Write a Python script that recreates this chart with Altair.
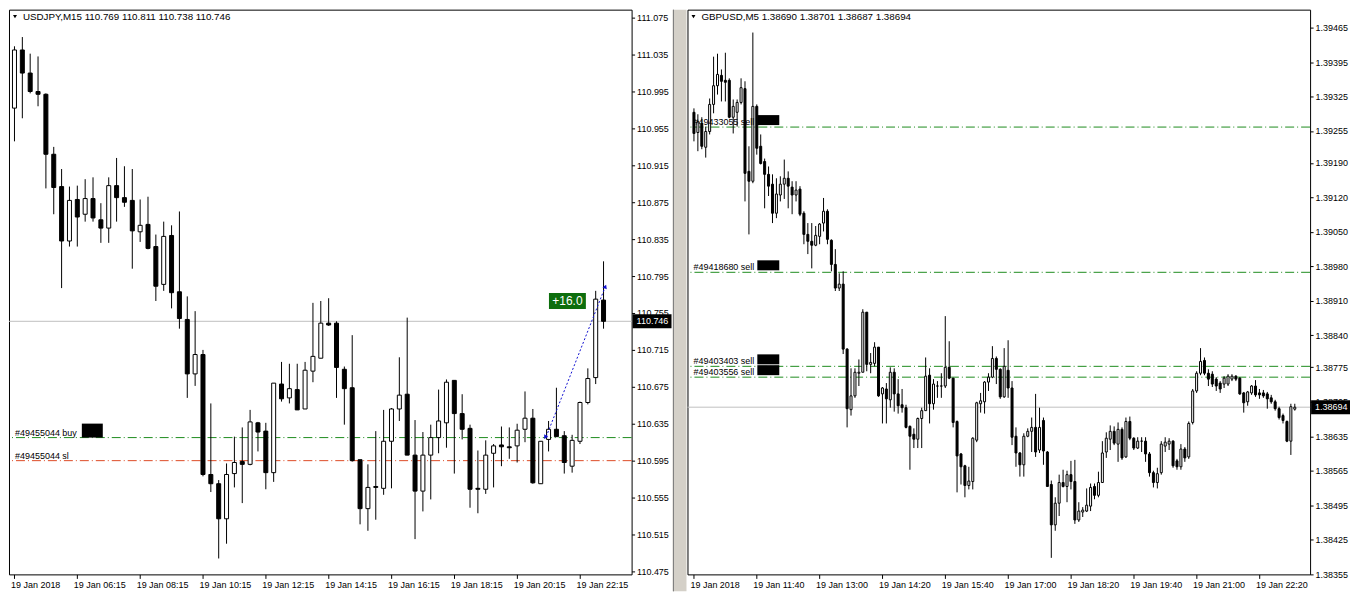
import altair as alt
import pandas as pd

FONT = "Tahoma, 'Liberation Sans', Arial, sans-serif"
FS = 9
TFS = 9.8

# ---------------- USDJPY, M15 ----------------
usd_title = "USDJPY,M15  110.769 110.811 110.738 110.746"
usd_open = [110.977, 111.040, 111.015, 110.995, 110.992, 110.927, 110.892, 110.833, 110.878, 110.862,
            110.879, 110.856, 110.847, 110.893, 110.880, 110.877, 110.843, 110.851, 110.827, 110.786,
            110.839, 110.778, 110.748, 110.689, 110.710, 110.580, 110.570, 110.532, 110.581, 110.594,
            110.591, 110.636, 110.627, 110.582, 110.678, 110.663, 110.672, 110.651, 110.692, 110.706,
            110.744, 110.744, 110.694, 110.674, 110.596, 110.543, 110.567, 110.565, 110.616, 110.651,
            110.667, 110.601, 110.562, 110.601, 110.620, 110.636, 110.682, 110.646, 110.630, 110.565,
            110.564, 110.603, 110.612, 110.610, 110.611, 110.629, 110.641, 110.570, 110.618, 110.629,
            110.622, 110.589, 110.616, 110.658, 110.685, 110.769]
usd_high = [111.044, 111.054, 111.036, 111.033, 110.993, 110.935, 110.911, 110.892, 110.893, 110.900,
            110.902, 110.874, 110.902, 110.923, 110.914, 110.911, 110.878, 110.881, 110.840, 110.854,
            110.850, 110.865, 110.773, 110.757, 110.715, 110.657, 110.574, 110.592, 110.621, 110.631,
            110.650, 110.637, 110.636, 110.679, 110.702, 110.700, 110.700, 110.702, 110.766, 110.768,
            110.771, 110.746, 110.697, 110.731, 110.596, 110.591, 110.627, 110.650, 110.652, 110.707,
            110.750, 110.639, 110.626, 110.634, 110.672, 110.683, 110.682, 110.667, 110.634, 110.606,
            110.617, 110.613, 110.632, 110.631, 110.635, 110.670, 110.651, 110.616, 110.638, 110.674,
            110.627, 110.623, 110.659, 110.695, 110.779, 110.811]
usd_low = [110.941, 110.966, 110.993, 110.979, 110.890, 110.862, 110.782, 110.827, 110.827, 110.854,
           110.854, 110.831, 110.831, 110.854, 110.870, 110.803, 110.832, 110.824, 110.768, 110.779,
           110.760, 110.738, 110.663, 110.676, 110.578, 110.561, 110.489, 110.505, 110.566, 110.549,
           110.590, 110.605, 110.564, 110.572, 110.659, 110.657, 110.650, 110.651, 110.680, 110.706,
           110.741, 110.663, 110.634, 110.594, 110.526, 110.519, 110.531, 110.558, 110.565, 110.638,
           110.601, 110.510, 110.540, 110.553, 110.603, 110.609, 110.581, 110.618, 110.544, 110.538,
           110.559, 110.566, 110.589, 110.597, 110.593, 110.615, 110.570, 110.570, 110.605, 110.621,
           110.581, 110.582, 110.613, 110.656, 110.678, 110.738]
usd_close = [111.040, 111.015, 110.995, 110.992, 110.927, 110.891, 110.833, 110.877, 110.859, 110.879,
             110.858, 110.847, 110.893, 110.880, 110.875, 110.844, 110.850, 110.825, 110.784, 110.838,
             110.777, 110.749, 110.689, 110.710, 110.580, 110.570, 110.532, 110.580, 110.593, 110.591,
             110.637, 110.626, 110.582, 110.679, 110.662, 110.673, 110.650, 110.693, 110.708, 110.744,
             110.742, 110.696, 110.673, 110.595, 110.543, 110.566, 110.566, 110.616, 110.651, 110.666,
             110.601, 110.562, 110.601, 110.620, 110.638, 110.680, 110.646, 110.629, 110.564, 110.564,
             110.601, 110.611, 110.610, 110.609, 110.628, 110.641, 110.571, 110.616, 110.629, 110.621,
             110.593, 110.617, 110.658, 110.684, 110.770, 110.746]
usd_x_ticks = [0, 8, 16, 24, 32, 40, 48, 56, 64, 72]
usd_x_labels = ["19 Jan 2018", "19 Jan 06:15", "19 Jan 08:15", "19 Jan 10:15", "19 Jan 12:15",
                "19 Jan 14:15", "19 Jan 16:15", "19 Jan 18:15", "19 Jan 20:15", "19 Jan 22:15"]
usd_y_ticks = [111.075, 111.035, 110.995, 110.955, 110.915, 110.875, 110.835, 110.795,
               110.755, 110.715, 110.675, 110.635, 110.595, 110.555, 110.515, 110.475]
usd_order_labels = ["#49455044 buy", "#49455044 sl"]
usd_order_prices = [110.620, 110.595]
usd_order_colors = ["#1e8c1e", "#dd4b26"]
usd_last = 110.746
usd_trade_bars = [67.7, 75.2]
usd_trade_prices = [110.621, 110.783]
usd_profit_text = "+16.0"
usd_profit_bar = 70.4
usd_profit_price = 110.768

# ---------------- GBPUSD, M5 ----------------
gbp_title = "GBPUSD,M5  1.38690 1.38701 1.38687 1.38694"
gbp_open = [1.39293, 1.39252, 1.39270, 1.39222, 1.39254, 1.39309, 1.39347, 1.39368, 1.39358, 1.39358,
            1.39283, 1.39293, 1.39313, 1.39341, 1.39173, 1.39153, 1.39305, 1.39224, 1.39193, 1.39167,
            1.39147, 1.39088, 1.39125, 1.39147, 1.39159, 1.39141, 1.39125, 1.39137, 1.39088, 1.39045,
            1.39031, 1.39023, 1.39041, 1.39068, 1.39092, 1.39033, 1.38984, 1.38936, 1.38944, 1.38812,
            1.38689, 1.38717, 1.38763, 1.38765, 1.38887, 1.38781, 1.38783, 1.38816, 1.38721, 1.38731,
            1.38709, 1.38765, 1.38721, 1.38699, 1.38693, 1.38655, 1.38639, 1.38629, 1.38671, 1.38687,
            1.38759, 1.38701, 1.38737, 1.38737, 1.38737, 1.38775, 1.38753, 1.38665, 1.38599, 1.38575,
            1.38535, 1.38543, 1.38627, 1.38701, 1.38705, 1.38745, 1.38755, 1.38793, 1.38771, 1.38715,
            1.38769, 1.38733, 1.38635, 1.38601, 1.38577, 1.38635, 1.38645, 1.38653, 1.38607, 1.38667,
            1.38603, 1.38537, 1.38455, 1.38499, 1.38541, 1.38533, 1.38557, 1.38543, 1.38465, 1.38481,
            1.38483, 1.38493, 1.38533, 1.38515, 1.38541, 1.38603, 1.38629, 1.38645, 1.38619, 1.38649,
            1.38593, 1.38665, 1.38631, 1.38611, 1.38625, 1.38625, 1.38599, 1.38561, 1.38541, 1.38561,
            1.38615, 1.38619, 1.38625, 1.38585, 1.38573, 1.38609, 1.38593, 1.38663, 1.38727, 1.38763,
            1.38789, 1.38763, 1.38761, 1.38751, 1.38743, 1.38741, 1.38741, 1.38751, 1.38757, 1.38753,
            1.38723, 1.38705, 1.38723, 1.38737, 1.38723, 1.38723, 1.38721, 1.38713, 1.38705, 1.38691,
            1.38677, 1.38665, 1.38625, 1.38690]
gbp_high = [1.39301, 1.39289, 1.39283, 1.39264, 1.39321, 1.39406, 1.39412, 1.39380, 1.39414, 1.39362,
            1.39319, 1.39319, 1.39362, 1.39356, 1.39224, 1.39455, 1.39309, 1.39248, 1.39199, 1.39183,
            1.39167, 1.39159, 1.39163, 1.39197, 1.39173, 1.39153, 1.39153, 1.39143, 1.39092, 1.39068,
            1.39068, 1.39062, 1.39068, 1.39119, 1.39096, 1.39035, 1.39015, 1.38966, 1.38970, 1.38814,
            1.38773, 1.38773, 1.38791, 1.38893, 1.38887, 1.38804, 1.38826, 1.38816, 1.38735, 1.38743,
            1.38775, 1.38773, 1.38751, 1.38731, 1.38699, 1.38657, 1.38651, 1.38673, 1.38693, 1.38795,
            1.38773, 1.38751, 1.38747, 1.38763, 1.38879, 1.38828, 1.38753, 1.38667, 1.38601, 1.38577,
            1.38573, 1.38633, 1.38705, 1.38723, 1.38747, 1.38763, 1.38818, 1.38797, 1.38773, 1.38814,
            1.38830, 1.38747, 1.38653, 1.38603, 1.38641, 1.38651, 1.38673, 1.38721, 1.38693, 1.38673,
            1.38605, 1.38545, 1.38511, 1.38557, 1.38567, 1.38565, 1.38585, 1.38587, 1.38501, 1.38491,
            1.38529, 1.38539, 1.38539, 1.38563, 1.38625, 1.38643, 1.38657, 1.38655, 1.38663, 1.38653,
            1.38673, 1.38675, 1.38633, 1.38633, 1.38633, 1.38633, 1.38603, 1.38565, 1.38571, 1.38625,
            1.38633, 1.38631, 1.38627, 1.38589, 1.38619, 1.38613, 1.38665, 1.38731, 1.38767, 1.38814,
            1.38795, 1.38771, 1.38767, 1.38755, 1.38747, 1.38757, 1.38761, 1.38761, 1.38759, 1.38755,
            1.38725, 1.38727, 1.38739, 1.38749, 1.38731, 1.38729, 1.38725, 1.38719, 1.38709, 1.38695,
            1.38681, 1.38667, 1.38701, 1.38701]
gbp_low = [1.39234, 1.39214, 1.39218, 1.39201, 1.39248, 1.39291, 1.39329, 1.39315, 1.39315, 1.39281,
           1.39250, 1.39264, 1.39309, 1.39112, 1.39045, 1.39149, 1.39207, 1.39187, 1.39098, 1.39123,
           1.39068, 1.39078, 1.39112, 1.39117, 1.39098, 1.39086, 1.39112, 1.39082, 1.39025, 1.39005,
           1.38976, 1.39021, 1.39025, 1.39051, 1.39025, 1.38970, 1.38930, 1.38930, 1.38802, 1.38653,
           1.38677, 1.38713, 1.38737, 1.38765, 1.38767, 1.38763, 1.38777, 1.38715, 1.38661, 1.38661,
           1.38693, 1.38685, 1.38681, 1.38683, 1.38651, 1.38567, 1.38611, 1.38611, 1.38611, 1.38687,
           1.38661, 1.38689, 1.38713, 1.38713, 1.38733, 1.38751, 1.38653, 1.38521, 1.38537, 1.38511,
           1.38527, 1.38527, 1.38623, 1.38683, 1.38681, 1.38727, 1.38753, 1.38741, 1.38711, 1.38713,
           1.38713, 1.38617, 1.38573, 1.38553, 1.38553, 1.38633, 1.38603, 1.38593, 1.38601, 1.38577,
           1.38533, 1.38388, 1.38443, 1.38473, 1.38531, 1.38501, 1.38527, 1.38457, 1.38461, 1.38471,
           1.38481, 1.38483, 1.38507, 1.38511, 1.38541, 1.38591, 1.38607, 1.38617, 1.38583, 1.38587,
           1.38591, 1.38627, 1.38607, 1.38609, 1.38603, 1.38583, 1.38553, 1.38531, 1.38529, 1.38557,
           1.38603, 1.38607, 1.38571, 1.38567, 1.38567, 1.38583, 1.38589, 1.38659, 1.38723, 1.38759,
           1.38759, 1.38737, 1.38735, 1.38727, 1.38723, 1.38733, 1.38737, 1.38747, 1.38747, 1.38719,
           1.38683, 1.38697, 1.38719, 1.38715, 1.38711, 1.38713, 1.38691, 1.38701, 1.38687, 1.38669,
           1.38661, 1.38623, 1.38597, 1.38687]
gbp_close = [1.39250, 1.39274, 1.39224, 1.39254, 1.39309, 1.39347, 1.39370, 1.39356, 1.39354, 1.39283,
             1.39305, 1.39313, 1.39343, 1.39169, 1.39153, 1.39305, 1.39220, 1.39189, 1.39167, 1.39143,
             1.39088, 1.39127, 1.39147, 1.39159, 1.39143, 1.39125, 1.39135, 1.39086, 1.39045, 1.39031,
             1.39023, 1.39043, 1.39066, 1.39092, 1.39035, 1.38984, 1.38936, 1.38944, 1.38812, 1.38691,
             1.38717, 1.38765, 1.38765, 1.38887, 1.38781, 1.38785, 1.38816, 1.38717, 1.38733, 1.38711,
             1.38765, 1.38721, 1.38697, 1.38693, 1.38653, 1.38635, 1.38629, 1.38671, 1.38687, 1.38757,
             1.38701, 1.38741, 1.38737, 1.38737, 1.38775, 1.38753, 1.38663, 1.38595, 1.38573, 1.38535,
             1.38544, 1.38631, 1.38703, 1.38707, 1.38745, 1.38755, 1.38793, 1.38771, 1.38715, 1.38777,
             1.38733, 1.38633, 1.38601, 1.38577, 1.38635, 1.38645, 1.38653, 1.38603, 1.38653, 1.38605,
             1.38533, 1.38455, 1.38499, 1.38541, 1.38533, 1.38557, 1.38543, 1.38465, 1.38483, 1.38485,
             1.38495, 1.38531, 1.38515, 1.38541, 1.38601, 1.38631, 1.38645, 1.38621, 1.38649, 1.38591,
             1.38665, 1.38631, 1.38611, 1.38625, 1.38625, 1.38599, 1.38561, 1.38541, 1.38559, 1.38619,
             1.38623, 1.38625, 1.38575, 1.38573, 1.38609, 1.38591, 1.38661, 1.38727, 1.38763, 1.38787,
             1.38763, 1.38751, 1.38741, 1.38737, 1.38731, 1.38753, 1.38757, 1.38757, 1.38751, 1.38721,
             1.38703, 1.38725, 1.38737, 1.38719, 1.38719, 1.38717, 1.38711, 1.38705, 1.38691, 1.38673,
             1.38667, 1.38625, 1.38695, 1.38694]
gbp_x_ticks = [0, 16, 32, 48, 64, 80, 96, 112, 128, 144]
gbp_x_labels = ["19 Jan 2018", "19 Jan 11:40", "19 Jan 13:00", "19 Jan 14:20", "19 Jan 15:40",
                "19 Jan 17:00", "19 Jan 18:20", "19 Jan 19:40", "19 Jan 21:00", "19 Jan 22:20"]
gbp_y_ticks = [1.39465, 1.39395, 1.39325, 1.39255, 1.39190, 1.39120, 1.39050, 1.38980, 1.38910,
               1.38840, 1.38775, 1.38705, 1.38635, 1.38565, 1.38495, 1.38425, 1.38355]
gbp_order_labels = ["#49433055 sell", "#49418680 sell", "#49403403 sell", "#49403556 sell"]
gbp_order_prices = [1.39263, 1.38968, 1.38777, 1.38755]
gbp_last = 1.38694

W, H = 624, 566
GREEN = "#1e8c1e"
DASH = [9, 3, 1, 3]


def frame(o, h, l, c):
    df = pd.DataFrame({"bar": list(range(len(o))), "open": o, "high": h, "low": l, "close": c})
    df["body_lo"] = df[["open", "close"]].min(axis=1)
    df["body_hi"] = df[["open", "close"]].max(axis=1)
    df["bull"] = (df["close"] >= df["open"]).map({True: "up", False: "down"})
    return df


def label_expr(labels, step):
    arr = "[" + ",".join("'%s'" % s for s in labels) + "]"
    return "%s[round(datum.value/%d)]" % (arr, step)


def panel(df, xdom, ydom, x_ticks, x_labels, step, y_ticks, yfmt, body_size,
          title, last_price, last_fmt, orders, box_x, box_offsets, extra=None):
    xs = alt.Scale(domain=xdom, nice=False, zero=False)
    ys = alt.Scale(domain=ydom, nice=False, zero=False)
    xaxis = alt.Axis(values=x_ticks, labelExpr=label_expr(x_labels, step), title=None, grid=False,
                     domain=False, tickSize=4, tickColor="black", labelAlign="left", labelPadding=2,
                     labelOffset=-4, labelFont=FONT, labelFontSize=FS, labelColor="black",
                     labelFlush=False, labelOverlap=False)
    yaxis = alt.Axis(orient="right", values=y_ticks, format=yfmt, title=None, grid=False,
                     domain=False, tickSize=3, tickColor="black", labelPadding=2, labelFont=FONT,
                     labelFontSize=FS, labelColor="black", labelOverlap=False, labelFlush=False)
    X = lambda f: alt.X(f, scale=xs, axis=xaxis)
    Y = lambda f: alt.Y(f, scale=ys, axis=yaxis)

    base = alt.Chart(df)
    wick = base.mark_rule(color="black", strokeWidth=1).encode(x=X("bar:Q"), y=Y("low:Q"), y2="high:Q")
    body = base.mark_bar(size=body_size, stroke="black", strokeWidth=1).encode(
        x=X("bar:Q"), y=Y("body_lo:Q"), y2="body_hi:Q",
        fill=alt.Fill("bull:N", scale=alt.Scale(domain=["up", "down"], range=["white", "black"]), legend=None))

    odf = pd.DataFrame(orders)
    olines = []
    for _, row in odf.iterrows():
        one = pd.DataFrame({"price": [row["price"]]})
        olines.append(alt.Chart(one).mark_rule(strokeWidth=1, strokeDash=DASH, color=row["color"],
                                               opacity=1).encode(y=Y("price:Q")))
    otext = alt.Chart(odf).mark_text(align="left", baseline="alphabetic", dy=-2, font=FONT,
                                     fontSize=FS, color="black").encode(
        x=alt.value(6), y=Y("price:Q"), text="label:N")
    bdf = odf[odf["box"]]
    oboxes = alt.Chart(bdf).mark_rect(color="black", yOffset=box_offsets[0], y2Offset=box_offsets[1]).encode(
        x=alt.value(box_x[0]), x2=alt.value(box_x[1]), y=Y("price:Q"), y2="price:Q")

    ldf = pd.DataFrame({"price": [last_price], "txt": [format(last_price, last_fmt)]})
    lline = alt.Chart(ldf).mark_rule(color="#c0c0c0", strokeWidth=1).encode(y=Y("price:Q"))
    lbox = alt.Chart(ldf).mark_rect(color="black", yOffset=-7, y2Offset=7).encode(
        x=alt.value(625), x2=alt.value(664), y=Y("price:Q"), y2="price:Q")
    ltxt = alt.Chart(ldf).mark_text(align="left", baseline="middle", font=FONT, fontSize=FS,
                                    color="white").encode(x=alt.value(629), y=Y("price:Q"), text="txt:N")

    tdf = pd.DataFrame({"t": [title]})
    tri = alt.Chart(tdf).mark_point(shape="triangle-down", filled=True, size=16, color="black",
                                    opacity=1).encode(x=alt.value(6), y=alt.value(7))
    ttxt = alt.Chart(tdf).mark_text(align="left", baseline="middle", font=FONT, fontSize=TFS,
                                    color="black").encode(x=alt.value(14), y=alt.value(7), text="t:N")

    layers = olines + [lline, wick, body, otext, oboxes, lbox, ltxt, tri, ttxt]
    if extra is not None:
        layers += extra(X, Y)
    return alt.layer(*layers).properties(width=W, height=H)


def usd_extra(X, Y):
    tr = pd.DataFrame({"bar": usd_trade_bars, "price": usd_trade_prices})
    line = alt.Chart(tr).mark_line(color="#1010d0", strokeWidth=1, strokeDash=[2, 2]).encode(
        x=X("bar:Q"), y=Y("price:Q"))
    start = alt.Chart(tr.iloc[[0]]).mark_point(shape="triangle-right", filled=True, size=22,
                                               color="#1010d0", opacity=1).encode(x=X("bar:Q"), y=Y("price:Q"))
    end = alt.Chart(tr.iloc[[1]]).mark_point(shape="triangle", filled=True, size=22, angle=22,
                                             color="#1010d0", opacity=1).encode(x=X("bar:Q"), y=Y("price:Q"))
    pdf = pd.DataFrame({"bar": [usd_profit_bar], "price": [usd_profit_price], "t": [usd_profit_text]})
    pbox = alt.Chart(pdf).mark_rect(color="#0d6e0d", xOffset=-18.5, x2Offset=18.5, yOffset=-8,
                                    y2Offset=8).encode(x=X("bar:Q"), x2="bar:Q", y=Y("price:Q"), y2="price:Q")
    ptxt = alt.Chart(pdf).mark_text(align="center", baseline="middle", font=FONT, fontSize=12,
                                    color="white").encode(x=X("bar:Q"), y=Y("price:Q"), text="t:N")
    # grey window frame between the two chart windows
    sep = alt.Chart(pd.DataFrame({"k": [0]})).mark_rect(color="#d4d0c8").encode(
        x=alt.value(665), x2=alt.value(679), y=alt.value(0), y2=alt.value(583))
    sep_line = alt.Chart(pd.DataFrame({"k": [0]})).mark_rule(color="#808080").encode(
        x=alt.value(666), y=alt.value(0), y2=alt.value(583))
    return [line, start, end, pbox, ptxt, sep, sep_line]


usd_orders = {"label": usd_order_labels, "price": usd_order_prices, "color": usd_order_colors,
              "box": [True, False]}
gbp_orders = {"label": gbp_order_labels, "price": gbp_order_prices, "color": [GREEN] * 4,
              "box": [True, True, True, True]}

left = panel(frame(usd_open, usd_high, usd_low, usd_close), [-0.0625, 77.9375],
             [110.47176, 111.0837], usd_x_ticks, usd_x_labels, 8, usd_y_ticks, ".3f", 4,
             usd_title, usd_last, ".3f", usd_orders, (73, 94), (-14, 0), extra=usd_extra)
right = panel(frame(gbp_open, gbp_high, gbp_low, gbp_close), [-0.375, 155.625],
              [1.383544, 1.395015], gbp_x_ticks, gbp_x_labels, 16, gbp_y_ticks, ".5f", 2,
              gbp_title, gbp_last, ".5f", gbp_orders, (70, 92), (-12, -2))

chart = alt.hconcat(left, right, spacing=56, bounds="flush").properties(
    padding={"left": 0, "top": 0, "right": 0, "bottom": 0}, background="white"
).configure_view(stroke="black", strokeWidth=1)

chart.save("out.html", embed_options={"renderer": "svg", "actions": False})
